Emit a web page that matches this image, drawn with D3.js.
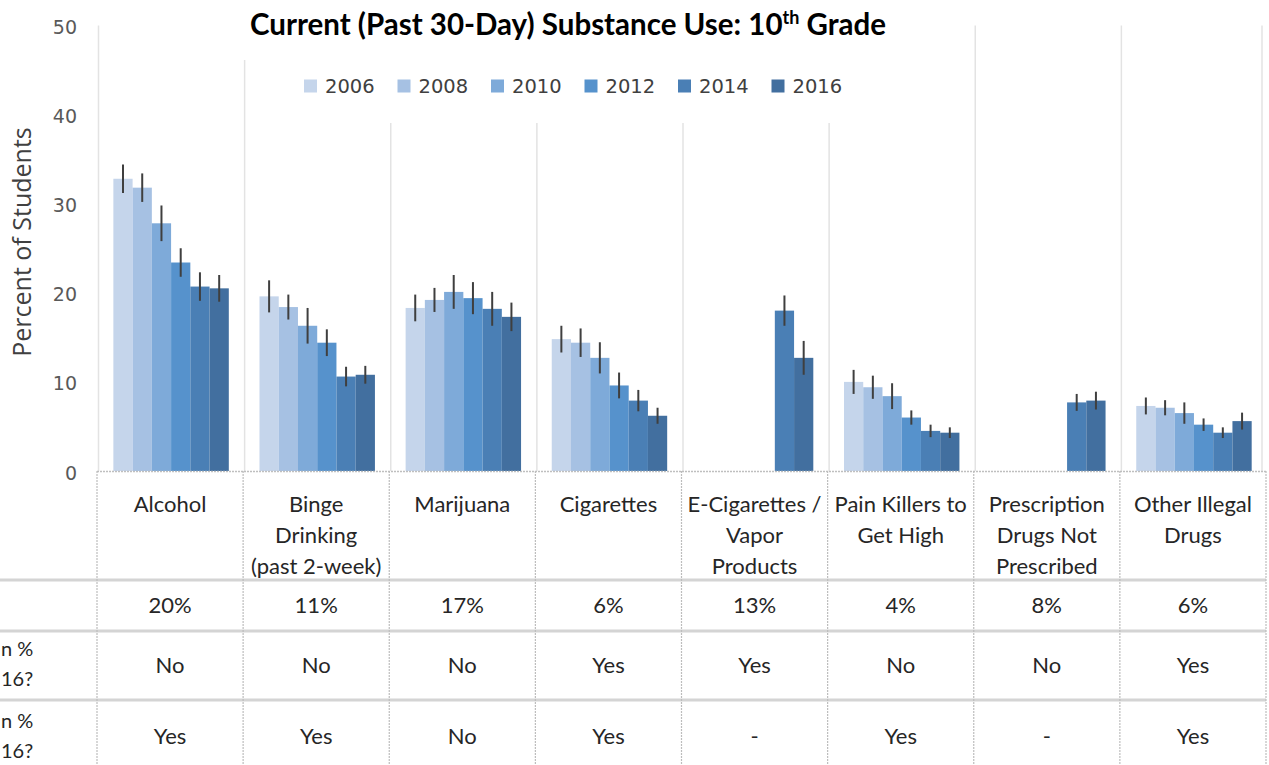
<!DOCTYPE html>
<html>
<head>
<meta charset="utf-8">
<script src="https://cdn.jsdelivr.net/npm/d3@7"></script>
<style>
  html, body { margin: 0; padding: 0; background: #fff; overflow: hidden; }
  svg { display: block; }
</style>
</head>
<body>
<svg id="chart" width="1269" height="765"></svg>
<script>
// ---------- DATA ----------
const categories = ["Alcohol", "Binge Drinking", "Marijuana", "Cigarettes",
  "E-Cigarettes / Vapor Products", "Pain Killers to Get High",
  "Prescription Drugs Not Prescribed", "Other Illegal Drugs"];
const categoryLines = [
  ["Alcohol"],
  ["Binge", "Drinking", "(past 2-week)"],
  ["Marijuana"],
  ["Cigarettes"],
  ["E-Cigarettes /", "Vapor", "Products"],
  ["Pain Killers to", "Get High"],
  ["Prescription", "Drugs Not", "Prescribed"],
  ["Other Illegal", "Drugs"]
];
const years = ["2006", "2008", "2010", "2012", "2014", "2016"];
const v2006 = [32.8, 19.6, 18.3, 14.8, null, 10.0, null, 7.3];
const v2008 = [31.8, 18.4, 19.2, 14.4, null, 9.4, null, 7.1];
const v2010 = [27.8, 16.3, 20.1, 12.7, null, 8.4, null, 6.5];
const v2012 = [23.4, 14.4, 19.4, 9.6, null, 6.0, null, 5.2];
const v2014 = [20.7, 10.6, 18.2, 7.9, 18.0, 4.5, 7.7, 4.3];
const v2016 = [20.5, 10.8, 17.3, 6.2, 12.7, 4.3, 7.9, 5.6];
// error bar half-widths (percentage points)
const e2006 = [1.6, 1.8, 1.5, 1.5, null, 1.35, null, 0.95];
const e2008 = [1.6, 1.4, 1.35, 1.6, null, 1.3, null, 0.85];
const e2010 = [2.0, 2.0, 1.9, 1.75, null, 1.45, null, 1.2];
const e2012 = [1.6, 1.5, 1.8, 1.45, null, 0.8, null, 0.7];
const e2014 = [1.6, 1.1, 1.9, 1.2, 1.7, 0.7, 0.95, 0.6];
const e2016 = [1.5, 1.0, 1.6, 0.9, 1.9, 0.6, 1.0, 0.95];
const yTicks = [0, 10, 20, 30, 40, 50];
const rate2016 = ["20%", "11%", "17%", "6%", "13%", "4%", "8%", "6%"];
const changeA = ["No", "No", "No", "Yes", "Yes", "No", "No", "Yes"];
const changeB = ["Yes", "Yes", "No", "Yes", "-", "Yes", "-", "Yes"];
const rowLabelA = ["n %", "16?"];
const rowLabelB = ["n %", "16?"];
const yearColors = ["#c5d5eb", "#a6c1e3", "#7eaad9", "#5692cc", "#4a7fb5", "#426f9f"];

const values = [v2006, v2008, v2010, v2012, v2014, v2016];
const errors = [e2006, e2008, e2010, e2012, e2014, e2016];

// ---------- LAYOUT ----------
const svg = d3.select("#chart");
const W = 1269, H = 765;
const tableLeft = 97, tableRight = 1266;
const plotTop = 25.5, plotBottom = 471;

const x = d3.scaleBand().domain(categories).range([tableLeft, tableRight]).padding(0);
const bw = x.bandwidth();
const xInner = d3.scaleBand().domain(years).range([bw * 0.112, bw * 0.902]).padding(0);
const y = d3.scaleLinear().domain([0, 50]).range([plotBottom, plotTop]);
const color = d3.scaleOrdinal().domain(years).range(yearColors);

// vertical gridlines at band boundaries
const bounds = categories.map(c => x(c)).concat([x(categories[categories.length - 1]) + bw]);
svg.append("g").selectAll("line").data(bounds).join("line")
  .attr("x1", (d, i) => i === bounds.length - 1 ? d - 4 : d + 1.5)
  .attr("x2", (d, i) => i === bounds.length - 1 ? d - 4 : d + 1.5)
  .attr("y1", y(50)).attr("y2", plotBottom)
  .attr("stroke", "#e3e3e3").attr("stroke-width", 1.5);

// title & legend background boxes (hide gridlines like the original)
svg.append("rect").attr("x", 236).attr("y", 0).attr("width", 668).attr("height", 60).attr("fill", "#fff");
svg.append("rect").attr("x", 290).attr("y", 60).attr("width", 570).attr("height", 63).attr("fill", "#fff");

// title
const title = svg.append("text")
  .attr("x", 568).attr("y", 35).attr("text-anchor", "middle")
  .attr("font-family", "Lato, 'Open Sans', sans-serif").attr("font-weight", "bold")
  .attr("font-size", 29.5).attr("fill", "#000");
title.append("tspan").text("Current (Past 30-Day) Substance Use: 10");
title.append("tspan").text("th").attr("font-size", 18).attr("dy", -11);
title.append("tspan").text(" Grade").attr("dy", 11);

// legend
const legend = svg.append("g").attr("font-family", "'DejaVu Sans', sans-serif")
  .attr("font-size", 19.5).attr("fill", "#404040");
const legStep = 93.5;
years.forEach((yr, i) => {
  const g = legend.append("g").attr("transform", `translate(${304 + i * legStep},86)`);
  g.append("rect").attr("x", 0).attr("y", -6.5).attr("width", 13).attr("height", 13).attr("fill", color(yr));
  g.append("text").attr("x", 21).attr("y", 7).text(yr);
});

// y axis (labels only)
const yAxis = d3.axisLeft(y).tickValues(yTicks).tickSize(0).tickPadding(0);
const yg = svg.append("g").attr("transform", "translate(77,2)").call(yAxis);
yg.select(".domain").remove();
yg.selectAll("text").attr("font-family", "'DejaVu Sans', sans-serif")
  .attr("font-size", 19).attr("fill", "#595959");

// y axis title
svg.append("text")
  .attr("transform", "translate(31,242) rotate(-90)")
  .attr("text-anchor", "middle")
  .attr("font-family", "'Open Sans', 'Noto Sans', sans-serif")
  .attr("font-size", 25).attr("fill", "#404040")
  .text("Percent of Students");

// bars
const barData = [];
categories.forEach((c, ci) => {
  years.forEach((yr, yi) => {
    const v = values[yi][ci];
    if (v !== null) barData.push({ c, yr, v, e: errors[yi][ci] });
  });
});
const bars = svg.append("g");
bars.selectAll("rect").data(barData).join("rect")
  .attr("x", d => x(d.c) + xInner(d.yr))
  .attr("width", xInner.bandwidth())
  .attr("y", d => y(d.v))
  .attr("height", d => y(0) - y(d.v))
  .attr("fill", d => color(d.yr));

// error bars
svg.append("g").selectAll("line").data(barData).join("line")
  .attr("x1", d => x(d.c) + xInner(d.yr) + xInner.bandwidth() / 2)
  .attr("x2", d => x(d.c) + xInner(d.yr) + xInner.bandwidth() / 2)
  .attr("y1", d => y(d.v + d.e))
  .attr("y2", d => y(d.v - d.e))
  .attr("stroke", "#3f3f3f").attr("stroke-width", 2);

// ---------- TABLE ----------
const rowLines = [580, 631, 700];
const table = svg.append("g");
// axis / table top line
table.append("line").attr("x1", tableLeft).attr("x2", tableRight)
  .attr("y1", plotBottom + 0.5).attr("y2", plotBottom + 0.5)
  .attr("stroke", "#bfbfbf").attr("stroke-width", 1.5).attr("stroke-dasharray", "2,1");
// row separators
table.selectAll("line.row").data(rowLines).join("line").attr("class", "row")
  .attr("x1", 0).attr("x2", tableRight)
  .attr("y1", d => d).attr("y2", d => d)
  .attr("stroke", "#d4d4d4").attr("stroke-width", 3);
// column separators
table.selectAll("line.col").data(bounds).join("line").attr("class", "col")
  .attr("x1", d => d).attr("x2", d => d)
  .attr("y1", plotBottom).attr("y2", H)
  .attr("stroke", "#bdbdbd").attr("stroke-width", 1.2).attr("stroke-dasharray", "2,1");

const tfont = "Lato, 'Open Sans', sans-serif";
const tsize = 22;
// category headers
categories.forEach((c, ci) => {
  const lines = categoryLines[ci];
  const t = table.append("text").attr("text-anchor", "middle")
    .attr("font-family", tfont).attr("font-size", tsize).attr("fill", "#262626");
  lines.forEach((ln, li) => {
    t.append("tspan").attr("x", x(c) + bw / 2).attr("y", 512 + li * 31).text(ln);
  });
});
// rows
const rows = [
  { vals: rate2016, y: 613 },
  { vals: changeA, y: 673 },
  { vals: changeB, y: 744 }
];
rows.forEach(r => {
  table.append("g").selectAll("text").data(categories).join("text")
    .attr("x", c => x(c) + bw / 2).attr("y", r.y)
    .attr("text-anchor", "middle")
    .attr("font-family", tfont).attr("font-size", tsize).attr("fill", "#262626")
    .text((c, i) => r.vals[i]);
});
// row label fragments on the left
[[rowLabelA, 656], [rowLabelB, 728]].forEach(([lbl, y0]) => {
  lbl.forEach((s, i) => {
    table.append("text").attr("x", 1).attr("y", y0 + i * 30).attr("text-anchor", "start")
      .attr("font-family", tfont).attr("font-size", 20).attr("fill", "#262626").text(s);
  });
});
</script>
</body>
</html>
